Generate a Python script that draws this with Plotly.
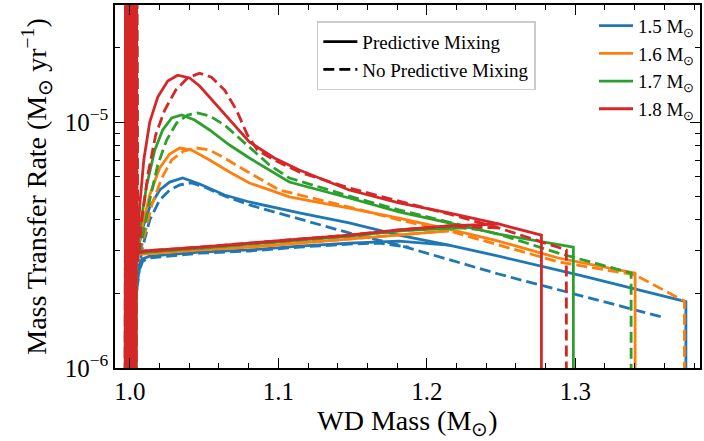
import plotly.graph_objects as go

# ---------------- data (WD mass in Msun, rate in 1e-6 Msun/yr) ----------------
masses = ["1.5", "1.6", "1.7", "1.8"]
colors = ["#1f77b4", "#ff7f0e", "#2ca02c", "#d62728"]

# unstable onset (dense oscillation near 1.0 Msun)
spike_x = [0.9968, 0.9972, 0.9976, 0.9980, 0.9984, 0.9988, 0.9992, 0.9996, 1.0000, 1.0004,
           1.0008, 1.0012, 1.0016, 1.0020, 1.0024, 1.0028, 1.0032, 1.0036, 1.0040, 1.0044]
spike_y = [0.1, 100, 0.1, 100, 0.1, 100, 0.1, 100, 0.1, 100,
           0.1, 100, 0.1, 100, 0.1, 100, 0.1, 100, 0.1, 100]

# 1.5 Msun, predictive mixing
b_pm_up_x = [1.0047, 1.0087, 1.0134, 1.0201, 1.0268, 1.0356, 1.047, 1.0638, 1.0805, 1.1141, 1.1477, 1.1812, 1.2148, 1.2483, 1.302, 1.3745]
b_pm_up_y = [2.88, 3.71, 4.51, 5.29, 5.70, 5.92, 5.60, 5.05, 4.73, 4.27, 3.89, 3.47, 3.16, 2.85, 2.39, 1.86]
b_pm_lo_x = [1.0034, 1.0054, 1.0081, 1.0134, 1.047, 1.0805, 1.1141, 1.1477, 1.1812, 1.2013, 1.2148]
b_pm_lo_y = [2.08, 2.55, 2.77, 2.85, 2.96, 3.02, 3.13, 3.22, 3.28, 3.22, 3.16]
# 1.5 Msun, no predictive mixing
b_np_up_x = [1.0027, 1.0047, 1.0081, 1.0134, 1.0201, 1.0268, 1.0336, 1.0416, 1.0503, 1.0638, 1.0805, 1.1141, 1.1477, 1.1812, 1.2148, 1.2483, 1.2886, 1.3604]
b_np_up_y = [1.57, 2.08, 3.02, 4.00, 4.82, 5.29, 5.55, 5.65, 5.44, 5.00, 4.60, 4.03, 3.54, 3.16, 2.75, 2.41, 2.08, 1.60]
b_np_lo_x = [1.004, 1.006, 1.0087, 1.0134, 1.047, 1.0805, 1.1141, 1.1477, 1.1678, 1.1879]
b_np_lo_y = [1.89, 2.46, 2.72, 2.80, 2.93, 2.99, 3.10, 3.19, 3.22, 3.10]

# 1.6 Msun, predictive mixing
o_pm_up_x = [1.0047, 1.0081, 1.0134, 1.0201, 1.0268, 1.0336, 1.0416, 1.0537, 1.0671, 1.0805, 1.1074, 1.1477, 1.1812, 1.2148, 1.2483, 1.2886, 1.3403]
o_pm_up_y = [2.88, 3.71, 5.05, 6.50, 7.41, 7.84, 7.69, 7.01, 6.26, 5.65, 4.96, 4.47, 4.07, 3.67, 3.28, 2.80, 2.43]
o_pm_lo_x = [1.0047, 1.0101, 1.047, 1.0805, 1.1141, 1.1477, 1.1812, 1.2148]
o_pm_lo_y = [2.91, 2.91, 3.02, 3.10, 3.22, 3.35, 3.47, 3.61]
# 1.6 Msun, no predictive mixing
o_np_up_x = [1.0054, 1.0094, 1.0148, 1.0215, 1.0282, 1.0362, 1.045, 1.0537, 1.0638, 1.0738, 1.1007, 1.1477, 1.1812, 1.2148, 1.2483, 1.2886, 1.3403, 1.3735]
o_np_up_y = [2.70, 3.38, 4.60, 5.92, 7.01, 7.62, 7.84, 7.69, 7.14, 6.56, 5.29, 4.51, 4.00, 3.61, 3.16, 2.70, 2.39, 1.87]
o_np_lo_x = [1.0047, 1.0101, 1.047, 1.0805, 1.1141, 1.1477, 1.1812, 1.2148]
o_np_lo_y = [2.91, 2.91, 3.02, 3.10, 3.22, 3.35, 3.47, 3.61]

# 1.7 Msun, predictive mixing
g_pm_up_x = [1.0047, 1.0074, 1.0114, 1.0168, 1.0221, 1.0282, 1.0349, 1.0436, 1.0537, 1.0671, 1.0805, 1.094, 1.1074, 1.1477, 1.1812, 1.2148, 1.2483, 1.2987]
g_pm_up_y = [2.88, 3.92, 5.55, 7.69, 9.28, 10.38, 10.68, 10.19, 9.28, 8.06, 7.14, 6.38, 5.70, 4.91, 4.31, 3.89, 3.50, 3.10]
g_pm_lo_x = [1.0047, 1.0101, 1.047, 1.0805, 1.1141, 1.1477, 1.1812, 1.2148, 1.2282]
g_pm_lo_y = [2.93, 2.96, 3.07, 3.19, 3.31, 3.44, 3.61, 3.71, 3.73]
# 1.7 Msun, no predictive mixing
g_np_up_x = [1.0054, 1.0087, 1.0134, 1.0188, 1.0248, 1.0315, 1.0389, 1.0456, 1.0537, 1.0638, 1.0738, 1.0839, 1.094, 1.1074, 1.1477, 1.1812, 1.2148, 1.2483, 1.2886, 1.3376]
g_np_up_y = [2.70, 3.47, 4.82, 6.69, 8.45, 9.91, 10.68, 10.88, 10.58, 9.72, 8.61, 7.55, 6.69, 5.92, 5.00, 4.39, 3.92, 3.50, 2.93, 2.43]
g_np_lo_x = [1.0047, 1.0101, 1.047, 1.0805, 1.1141, 1.1477, 1.1812, 1.2148, 1.2349]
g_np_lo_y = [2.93, 2.96, 3.07, 3.19, 3.31, 3.44, 3.61, 3.74, 3.66]

# 1.8 Msun, predictive mixing
r_pm_up_x = [1.0047, 1.0067, 1.0094, 1.0134, 1.0188, 1.0255, 1.0322, 1.0403, 1.047, 1.057, 1.0671, 1.0805, 1.0973, 1.1141, 1.1477, 1.1812, 1.2148, 1.2483, 1.2772]
r_pm_up_y = [2.93, 4.60, 7.01, 10.0, 12.64, 14.68, 15.5, 15.10, 14.01, 11.95, 10.19, 8.29, 7.14, 6.38, 5.29, 4.69, 4.27, 3.85, 3.47]
r_pm_lo_x = [1.0047, 1.0101, 1.047, 1.0805, 1.1141, 1.1477, 1.1812, 1.2148, 1.2483]
r_pm_lo_y = [2.93, 2.99, 3.10, 3.22, 3.35, 3.47, 3.64, 3.78, 3.85]
# 1.8 Msun, no predictive mixing
r_np_up_x = [1.0054, 1.0081, 1.0121, 1.0174, 1.0235, 1.0309, 1.0389, 1.047, 1.055, 1.0638, 1.0718, 1.0792, 1.0859, 1.0973, 1.1141, 1.1477, 1.1812, 1.2148, 1.2483, 1.2752, 1.294]
r_np_up_y = [2.70, 4.00, 6.09, 8.85, 11.19, 13.49, 15.10, 15.8, 15.2, 13.49, 11.19, 8.85, 7.69, 7.01, 6.26, 5.39, 4.77, 4.23, 3.71, 3.28, 3.02]
r_np_lo_x = [1.0047, 1.0101, 1.047, 1.0805, 1.1141, 1.1477, 1.1812, 1.2148, 1.2483]
r_np_lo_y = [2.93, 2.99, 3.10, 3.22, 3.35, 3.47, 3.64, 3.78, 3.71]

# whether the track ends with a sudden drop in rate
drop_end = {"b_pm": True, "b_np": False, "o_pm": True, "o_np": True,
            "g_pm": True, "g_np": True, "r_pm": True, "r_np": True}

x_ticks = [1.0, 1.1, 1.2, 1.3]
x_ticktext = ["1.0", "1.1", "1.2", "1.3"]
x_minor = [1.02, 1.04, 1.06, 1.08, 1.12, 1.14, 1.16, 1.18, 1.22, 1.24, 1.26, 1.28, 1.32, 1.34, 1.36, 1.38]
y_ticks = [1e-6, 1e-5]
y_ticktext = ["10<sup>\u22126</sup>", "10<sup>\u22125</sup>"]
y_minor = [2e-6, 3e-6, 4e-6, 5e-6, 6e-6, 7e-6, 8e-6, 9e-6, 2e-5, 3e-5]

series = [
    ("b_pm", 0, "solid", b_pm_up_x, b_pm_up_y, b_pm_lo_x, b_pm_lo_y),
    ("b_np", 0, "dash", b_np_up_x, b_np_up_y, b_np_lo_x, b_np_lo_y),
    ("o_pm", 1, "solid", o_pm_up_x, o_pm_up_y, o_pm_lo_x, o_pm_lo_y),
    ("o_np", 1, "dash", o_np_up_x, o_np_up_y, o_np_lo_x, o_np_lo_y),
    ("g_pm", 2, "solid", g_pm_up_x, g_pm_up_y, g_pm_lo_x, g_pm_lo_y),
    ("g_np", 2, "dash", g_np_up_x, g_np_up_y, g_np_lo_x, g_np_lo_y),
    ("r_pm", 3, "solid", r_pm_up_x, r_pm_up_y, r_pm_lo_x, r_pm_lo_y),
    ("r_np", 3, "dash", r_np_up_x, r_np_up_y, r_np_lo_x, r_np_lo_y),
]

DASH = "11px,5px"
LW = 2.8
fig = go.Figure()

for key, ci, style, ux, uy, lx, ly in series:
    dash = "solid" if style == "solid" else DASH
    xs = list(spike_x) + list(ux)
    ys = list(spike_y) + list(uy)
    if drop_end[key]:
        xs = xs + [ux[-1]]
        ys = ys + [0.1]
    fig.add_trace(go.Scatter(x=xs, y=[v * 1e-6 for v in ys], mode="lines",
                             line=dict(color=colors[ci], width=LW, dash=dash),
                             showlegend=False, hoverinfo="skip"))
    fig.add_trace(go.Scatter(x=lx, y=[v * 1e-6 for v in ly], mode="lines",
                             line=dict(color=colors[ci], width=LW, dash=dash),
                             showlegend=False, hoverinfo="skip"))

# legend 1: line styles
fig.add_trace(go.Scatter(x=[None], y=[None], mode="lines", name="Predictive Mixing",
                         line=dict(color="black", width=LW), legend="legend"))
fig.add_trace(go.Scatter(x=[None], y=[None], mode="lines", name="No Predictive Mixing",
                         line=dict(color="black", width=LW, dash=DASH), legend="legend"))
# legend 2: masses
for m, c in zip(masses, colors):
    fig.add_trace(go.Scatter(x=[None], y=[None], mode="lines", name=m + " M<sub>\u2299</sub>",
                             line=dict(color=c, width=LW), legend="legend2"))

FONT = "Liberation Serif"
axis_common = dict(showline=True, linecolor="black", linewidth=1.5, mirror="ticks",
                   ticks="inside", ticklen=10, tickwidth=1.3, tickcolor="black",
                   showgrid=False, zeroline=False,
                   tickfont=dict(family=FONT, size=25, color="black"))

fig.update_layout(
    width=704, height=441,
    margin=dict(l=115, r=2, t=5, b=73),
    paper_bgcolor="white", plot_bgcolor="white",
    font=dict(family=FONT, color="black"),
    xaxis=dict(range=[0.990, 1.384], tickmode="array", tickvals=x_ticks, ticktext=x_ticktext,
               minor=dict(tickmode="array", tickvals=x_minor, ticks="inside", ticklen=5,
                          tickwidth=1, tickcolor="black"),
               title=dict(text="WD Mass (M<sub>\u2299</sub>)", font=dict(family=FONT, size=28),
                          standoff=4),
               **axis_common),
    yaxis=dict(type="log", range=[-6, -4.5244], tickmode="array", tickvals=y_ticks,
               ticktext=y_ticktext,
               minor=dict(tickmode="array", tickvals=y_minor, ticks="inside", ticklen=5,
                          tickwidth=1, tickcolor="black"),
               title=dict(text="Mass Transfer Rate (M<sub>\u2299</sub> yr<sup>\u22121</sup>)",
                          font=dict(family=FONT, size=28), standoff=10),
               **axis_common),
    legend=dict(x=0.345, y=0.955, xanchor="left", yanchor="top",
                bgcolor="rgba(255,255,255,0.8)", bordercolor="#cccccc", borderwidth=1.5,
                font=dict(family=FONT, size=19), tracegroupgap=0, itemwidth=34),
    legend2=dict(x=1.0, y=0.995, xanchor="right", yanchor="top",
                 bgcolor="rgba(0,0,0,0)", borderwidth=0,
                 font=dict(family=FONT, size=19), tracegroupgap=0, itemwidth=34),
)

fig.write_html("out.html")
